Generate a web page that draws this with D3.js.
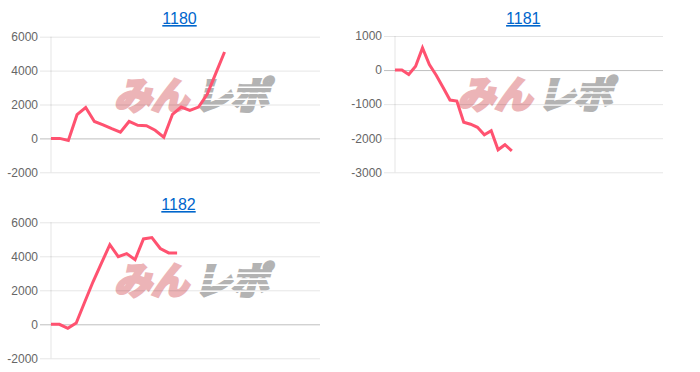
<!DOCTYPE html>
<html>
<head>
<meta charset="utf-8">
<script src="https://cdn.jsdelivr.net/npm/d3@7"></script>
<style>
  body { margin: 0; background: #fff; }
  svg { display: block; }
</style>
</head>
<body>
<div id="chart"></div>
<script>
// x labels (hidden axis), one per day slot
var labels1180 = ["1","2","3","4","5","6","7","8","9","10","11","12","13","14","15","16",
                  "17","18","19","20","21","22","23","24","25","26","27","28","29","30","31","32"];
var labels1181 = ["1","2","3","4","5","6","7","8","9","10","11","12","13","14","15","16","17","18","19","20",
                  "21","22","23","24","25","26","27","28","29","30","31","32","33","34","35","36","37","38","39","40"];
var labels1182 = ["1","2","3","4","5","6","7","8","9","10","11","12","13","14","15","16","17",
                  "18","19","20","21","22","23","24","25","26","27","28","29","30","31","32","33"];

var values1180 = [0, 0, -120, 1400, 1820, 1000, 800, 570, 370, 1000, 770, 750, 480, 70,
                  1420, 1850, 1650, 1850, 2600, 3850, 5100];
var values1181 = [0, 0, -130, 110, 650, 160, -150, -510, -880, -910, -1530, -1590, -1680,
                  -1900, -1780, -2340, -2190, -2370];
var values1182 = [0, 0, -240, 80, 1300, 2500, 3600, 4680, 3980, 4160, 3800, 5020, 5100,
                  4460, 4200, 4200];

var ticks1180 = [-2000, 0, 2000, 4000, 6000];
var ticks1181 = [-3000, -2000, -1000, 0, 1000];
var ticks1182 = [-2000, 0, 2000, 4000, 6000];

var W = 700, H = 372;
var svg = d3.select("#chart").append("svg")
    .attr("width", W)
    .attr("height", H);

var font = "'Liberation Sans', Arial, Helvetica, sans-serif";

function drawPanel(title, labels, values, ticks, box, titleX, titleY) {
    var g = svg.append("g");

    var x = d3.scalePoint()
        .domain(labels)
        .range([box.left, box.right]);
    var y = d3.scaleLinear()
        .domain(d3.extent(ticks))
        .range([box.bottom, box.top]);

    // title (link style)
    g.append("text")
        .attr("x", titleX)
        .attr("y", titleY)
        .attr("text-anchor", "middle")
        .style("font-family", font)
        .style("font-size", "16px")
        .style("fill", "#0066cc")
        .style("text-decoration", "underline")
        .text(title);

    // watermark
    var cx = (box.left + box.right) / 2 + 10,
        cy = (box.top + box.bottom) / 2 - 9;
    var wm = g.append("g")
        .attr("transform", "translate(" + cx + "," + cy + ") skewX(-14)");
    wm.append("text")
        .attr("x", -4)
        .attr("y", 13)
        .attr("text-anchor", "end")
        .style("font-family", "'Noto Sans CJK JP', sans-serif")
        .style("font-weight", "bold")
        .style("font-size", "37px")
        .style("fill", "#ecb4b7")
        .style("stroke", "#ecb4b7")
        .style("stroke-width", 3.5)
        .style("stroke-linejoin", "miter")
        .text("みん");
    wm.append("text")
        .attr("x", 2)
        .attr("y", 13)
        .attr("text-anchor", "start")
        .style("font-family", "'Noto Sans CJK JP', sans-serif")
        .style("font-weight", "bold")
        .style("font-size", "37px")
        .style("fill", "#b3b3b3")
        .style("stroke", "#b3b3b3")
        .style("stroke-width", 3.5)
        .style("stroke-linejoin", "miter")
        .text("レポ");
    // speed stripes over the gray part
    [-9, -3, 3, 9].forEach(function (d) {
        wm.append("rect")
            .attr("x", 0)
            .attr("y", d)
            .attr("width", 82)
            .attr("height", 1.6)
            .attr("fill", "#fff");
    });

    // y axis with gridlines, anchored at the right edge
    var axis = g.append("g")
        .attr("transform", "translate(" + box.right + ",0)")
        .call(d3.axisLeft(y)
            .tickValues(ticks)
            .tickSize(box.right - box.left + 11)
            .tickPadding(2)
            .tickFormat(function (d) { return String(d); }));
    axis.select(".domain").remove();
    axis.selectAll(".tick line")
        .attr("stroke", function (d) { return d === 0 ? "rgba(0,0,0,0.25)" : "rgba(0,0,0,0.1)"; });
    axis.selectAll(".tick text")
        .style("font-family", font)
        .style("font-size", "12px")
        .style("fill", "#666");

    // left border of the plot
    g.append("line")
        .attr("x1", box.left)
        .attr("x2", box.left)
        .attr("y1", box.top)
        .attr("y2", box.bottom)
        .attr("stroke", "rgba(0,0,0,0.1)");

    var line = d3.line()
        .x(function (d, i) { return x(labels[i]); })
        .y(function (d) { return y(d); });

    g.append("path")
        .datum(values)
        .attr("d", line)
        .attr("fill", "none")
        .attr("stroke", "rgb(255, 82, 112)")
        .attr("stroke-width", 3);
}

drawPanel("1180", labels1180, values1180, ticks1180,
    { left: 51, right: 320, top: 36.7, bottom: 172.3 }, 179.5, 24);
drawPanel("1181", labels1181, values1181, ticks1181,
    { left: 395, right: 663, top: 36, bottom: 172.3 }, 523.3, 24);
drawPanel("1182", labels1182, values1182, ticks1182,
    { left: 51, right: 320, top: 222.3, bottom: 358.3 }, 178.5, 210);
</script>
</body>
</html>
